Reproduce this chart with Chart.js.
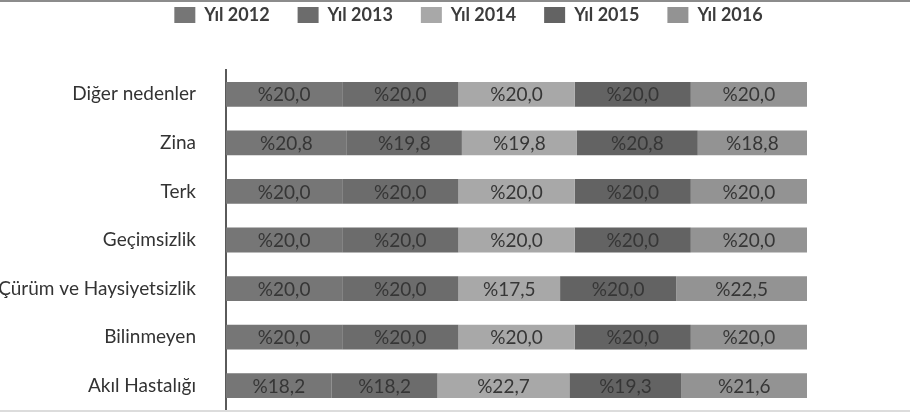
<!DOCTYPE html>
<html>
<head>
<meta charset="utf-8">
<script src="https://cdn.jsdelivr.net/npm/chart.js@4/dist/chart.umd.min.js"></script>
<style>
    body { margin: 0; background: #fff; }
    #frame { position: relative; width: 910px; height: 418px; overflow: hidden; background: #fff; }
    #topLine { position: absolute; left: 0; top: 0; width: 910px; height: 2px; background: #8c8c8c; z-index: 2; }
    #bottomLine { position: absolute; left: 0; top: 410px; width: 910px; height: 2px; background: #dcdcdc; z-index: 2; }
    #chart { position: absolute; left: 0; top: -22px; width: 910px; height: 440px; }
</style>
</head>
<body>
<div id="frame">
    <div id="topLine"></div>
    <div id="bottomLine"></div>
    <canvas id="chart" width="910" height="440"></canvas>
</div>
<script>
const categories = ['Diğer nedenler', 'Zina', 'Terk', 'Geçimsizlik', 'Çürüm ve Haysiyetsizlik', 'Bilinmeyen', 'Akıl Hastalığı'];
const years = ['Yıl 2012', 'Yıl 2013', 'Yıl 2014', 'Yıl 2015', 'Yıl 2016'];
const y2012 = [20.0, 20.8, 20.0, 20.0, 20.0, 20.0, 18.2];
const y2013 = [20.0, 19.8, 20.0, 20.0, 20.0, 20.0, 18.2];
const y2014 = [20.0, 19.8, 20.0, 20.0, 17.5, 20.0, 22.7];
const y2015 = [20.0, 20.8, 20.0, 20.0, 20.0, 20.0, 19.3];
const y2016 = [20.0, 18.8, 20.0, 20.0, 22.5, 20.0, 21.6];
const colors = ['#767676', '#6c6c6c', '#a8a8a8', '#636363', '#939393'];

const FONT = 'Lato, "Open Sans", sans-serif';

// writes "%20,0" in the middle of every bar segment
const barLabels = {
    id: 'barLabels',
    afterDatasetsDraw(chart) {
        const ctx = chart.ctx;
        ctx.save();
        ctx.font = '19px ' + FONT;
        ctx.fillStyle = '#363636';
        ctx.textAlign = 'center';
        ctx.textBaseline = 'middle';
        chart.data.datasets.forEach((ds, i) => {
            chart.getDatasetMeta(i).data.forEach((bar, j) => {
                const p = bar.getProps(['x', 'y', 'base'], true);
                const text = '%' + ds.data[j].toFixed(1).replace('.', ',');
                ctx.fillText(text, (p.x + p.base) / 2, p.y + 1);
            });
        });
        ctx.restore();
    }
};

// legend drawn up in the top padding and nudged right
const legendShift = {
    id: 'legendShift',
    beforeInit(chart) {
        const legend = chart.legend;
        const draw = legend.draw;
        legend.draw = function() {
            chart.ctx.save();
            chart.ctx.translate(65, -36);
            draw.apply(legend, arguments);
            chart.ctx.restore();
        };
    }
};

const sets = [y2012, y2013, y2014, y2015, y2016].map((d, i) => ({
    label: years[i],
    data: d,
    backgroundColor: colors[i],
    borderWidth: 0,
    barPercentage: 0.51,
    categoryPercentage: 1.0
}));

new Chart(document.getElementById('chart'), {
    type: 'bar',
    data: { labels: categories, datasets: sets },
    options: {
        indexAxis: 'y',
        responsive: false,
        animation: false,
        layout: { autoPadding: false, padding: { left: 0, right: 103, top: 36, bottom: 8 } },
        plugins: {
            legend: {
                position: 'top',
                labels: {
                    boxWidth: 21,
                    boxHeight: 16,
                    padding: 28,
                    color: '#3c3c3c',
                    font: { family: FONT, size: 18, weight: 'bold' }
                }
            },
            tooltip: { enabled: false }
        },
        scales: {
            x: {
                stacked: true,
                display: false,
                min: 0,
                max: 100
            },
            y: {
                stacked: true,
                grid: { display: false },
                border: { display: true, color: '#5a5a5a', width: 2 },
                ticks: {
                    color: '#333',
                    padding: 22,
                    font: { family: FONT, size: 19 }
                },
                afterFit(scale) {
                    scale.width = 226;
                    // tick padding would otherwise eat space under the bars
                    scale.paddingTop = 0;
                    scale.paddingBottom = 0;
                }
            }
        }
    },
    plugins: [barLabels, legendShift]
});
</script>
</body>
</html>
